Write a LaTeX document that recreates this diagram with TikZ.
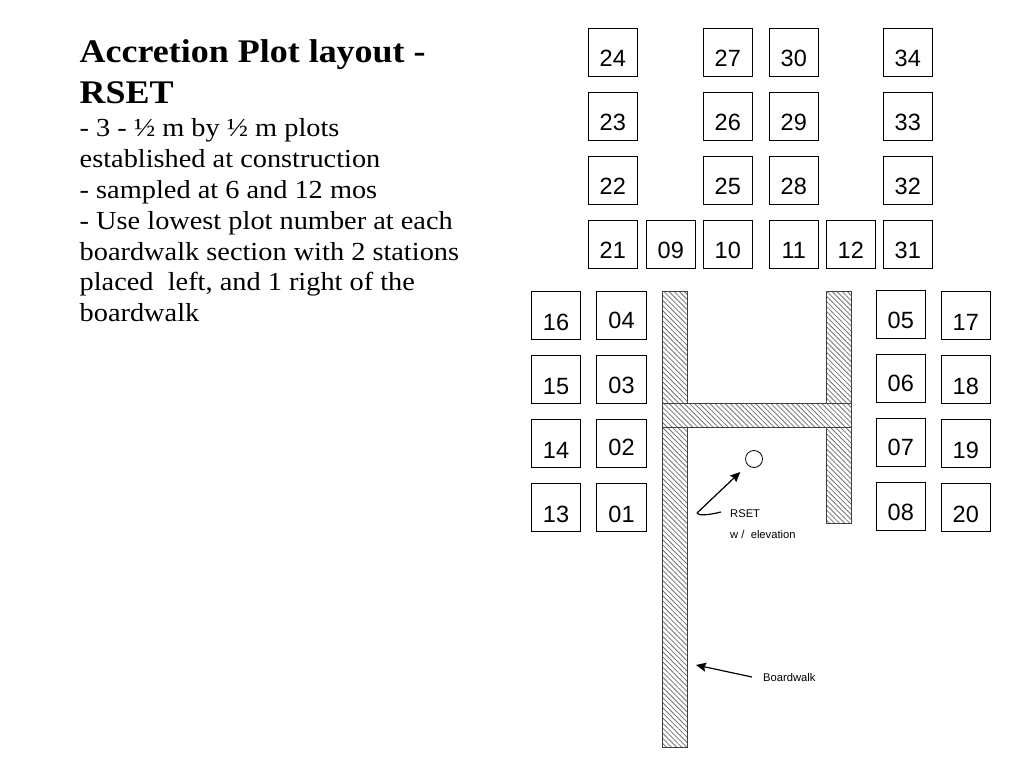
\documentclass[tikz,border=0pt]{standalone}
\usepackage{fontspec}
\setmainfont{Liberation Serif}
\setsansfont{Liberation Sans}
\newfontfamily\wideserif[FakeStretch=1.09]{Liberation Serif}
\usetikzlibrary{positioning,arrows.meta,patterns.meta}

\begin{document}
\begin{tikzpicture}[
  x=1pt, y=-1pt,
  node distance=16pt,
  plotbox/.style={draw, line width=0.8pt, inner sep=0pt, outer sep=0pt, minimum width=49.6pt, minimum height=48pt, font=\sffamily\fontsize{23.5}{24}\selectfont, text height=29pt, text depth=0pt},
  walkway/.style={draw=black!75, line width=0.8pt, inner sep=0pt, outer sep=0pt, preaction={fill=white}, pattern={Lines[angle=-45,distance=3.6pt,line width=0.8pt]}, pattern color=black!55},
  arrow/.style={-{Stealth[length=10pt,width=9pt,inset=1.5pt]}, line width=1.2pt},
  smalltext/.style={font=\sffamily\fontsize{11.2}{12}\selectfont, anchor=west, inner ysep=0pt}
]
\useasboundingbox (0,0) rectangle (1024,768);

% text on the left
\node[anchor=north west, inner sep=0pt, align=left, font=\wideserif\bfseries\fontsize{33}{41}\selectfont] (title) at (79.5,39) {Accretion Plot layout -\\RSET};
\node[below=15pt of title.south west, anchor=north west, inner sep=0pt, align=left, font=\wideserif\fontsize{26}{30.8}\selectfont] (notes) {- 3 - ½ m by ½ m plots\\established at construction\\- sampled at 6 and 12 mos\\- Use lowest plot number at each\\boardwalk section with 2 stations\\placed~ left, and 1 right of the\\boardwalk};

% top row of plots
\node[plotbox] (p21) at (612.8,244) {21};
\node[plotbox, right=8.4pt of p21] (p09) {09};
\node[plotbox, right=7.4pt of p09] (p10) {10};
\node[plotbox, right=16.4pt of p10] (p11) {11};
\node[plotbox, right=7.4pt of p11] (p12) {12};
\node[plotbox, right=7.4pt of p12] (p31) {31};
\node[plotbox, above=of p21] (p22) {22};
\node[plotbox, above=of p22] (p23) {23};
\node[plotbox, above=of p23] (p24) {24};
\node[plotbox, above=of p10] (p25) {25};
\node[plotbox, above=of p25] (p26) {26};
\node[plotbox, above=of p26] (p27) {27};
\node[plotbox, above=of p11] (p28) {28};
\node[plotbox, above=of p28] (p29) {29};
\node[plotbox, above=of p29] (p30) {30};
\node[plotbox, above=of p31] (p32) {32};
\node[plotbox, above=of p32] (p33) {33};
\node[plotbox, above=of p33] (p34) {34};

% left plots
\node[plotbox] (p16) at (556,315.6) {16};
\node[plotbox, below=of p16] (p15) {15};
\node[plotbox, below=of p15] (p14) {14};
\node[plotbox, below=of p14] (p13) {13};
\node[plotbox, right=15.9pt of p16, text height=25pt] (p04) {04};
\node[plotbox, below=of p04, text height=27pt] (p03) {03};
\node[plotbox, below=of p03, text height=23pt] (p02) {02};
\node[plotbox, below=of p02] (p01) {01};

% right plots
\node[plotbox, text height=27pt] (p05) at (900.8,314.6) {05};
\node[plotbox, below=of p05, text height=25pt] (p06) {06};
\node[plotbox, below=of p06, text height=25pt] (p07) {07};
\node[plotbox, below=of p07, text height=27pt] (p08) {08};
\node[plotbox] (p17) at (965.8,315.6) {17};
\node[plotbox, below=of p17] (p18) {18};
\node[plotbox, below=of p18] (p19) {19};
\node[plotbox, below=of p19] (p20) {20};

% boardwalk
\node[walkway, minimum width=25pt, minimum height=456pt] (walkleft) at (674.5,519) {};
\node[walkway, minimum width=25pt, minimum height=232pt] (walkright) at (838.5,407) {};
\node[walkway, minimum width=189pt, minimum height=24pt] (walkcross) at (756.5,415) {};

% rset and labels
\node[draw, circle, line width=0.8pt, inner sep=0pt, minimum size=17pt] (well) at (754,459) {};
\node[smalltext, inner xsep=9pt] (rset) at (721,514) {RSET};
\node[smalltext] (rsetnote) at (726.7,534) {w /~ elevation};
\node[smalltext, inner xsep=11pt] (boardlabel) at (752,677) {Boardwalk};
\coordinate (bend) at (697,513);
\coordinate (boardtip) at (696,665);

\draw[line width=1.2pt] ([yshift=2pt]rset.west) .. controls (709,515) and (698,516) .. (bend);
\draw[arrow, shorten >=10pt] (bend) -- (well);
\draw[arrow] (boardlabel.west) -- (boardtip);
\end{tikzpicture}
\end{document}
